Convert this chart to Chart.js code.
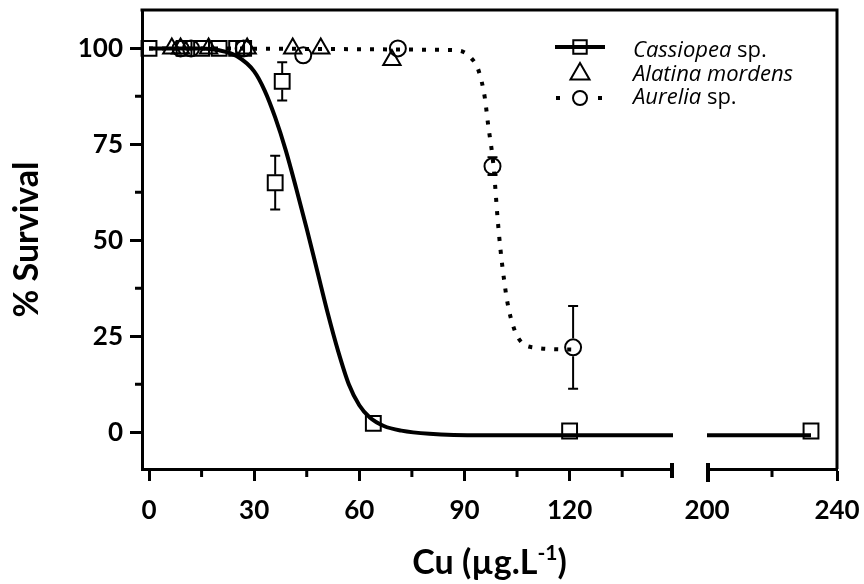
<!DOCTYPE html>
<html>
<head>
<meta charset="utf-8">
<title>Cu survival</title>
<script src="https://cdn.jsdelivr.net/npm/chart.js@4.4.1/dist/chart.umd.min.js"></script>
<style>
  html, body { margin: 0; padding: 0; background: #fff; }
  #wrap { width: 864px; height: 584px; }
</style>
</head>
<body>
<div id="wrap"><canvas id="chart" width="864" height="584"></canvas></div>
<script>
// Survival data
const cassX = [0, 10, 15, 20, 25, 27, 36, 38, 64, 120];
const cassY = [100, 100, 100, 100, 100, 100, 65, 91.4, 2.3, 0.3];
const cassErr = [0, 0, 0, 0, 0, 0, 7, 5, 0, 0];
const cassHighX = [232];
const cassHighY = [0.3];

const alatX = [6.5, 9, 17, 28, 41, 49, 69.3];
const alatY = [100, 100, 100, 100, 100, 100, 97];

const aurX = [9, 12, 27, 44, 71, 98, 121];
const aurY = [100, 100, 100, 98.2, 100, 69.3, 22.1];
const aurErr = [0, 0, 0, 0, 0, 2.3, 10.8];

// Fitted curves, sampled off the figure
const cassFitX = [0, 15, 20, 25, 30, 33, 36, 39, 42, 45, 48, 51, 54, 57, 60, 63, 67, 72, 80, 95, 149.5];
const cassFitY = [100, 100, 99.5, 98, 94, 89, 82, 73.5, 63.5, 53, 42, 31, 21, 12.5, 7, 3.8, 1.6, 0.4, -0.4, -0.8, -0.8];
const cassFitHighX = [200, 232];
const cassFitHighY = [-0.8, -0.8];

const aurFitX = [0, 85, 89, 92, 94, 95.8, 96.7, 98.3, 99.5, 100.3, 101.2, 102.3, 104.3, 106.3, 109.5, 121];
const aurFitY = [100, 99.6, 99.3, 97.4, 94.3, 87.2, 80.5, 69.3, 55.2, 47.4, 40.4, 33.6, 26.6, 23.4, 22.1, 21.5];

// Axis ticks
const xLowTicks = [0, 30, 60, 90, 120];
const xLowMinor = [15, 45, 75, 105, 135];
const xHighTicks = [200, 240];
const xHighMinor = [220];
const yTicks = [0, 25, 50, 75, 100];
const yMinor = [12.5, 37.5, 62.5, 87.5];

const legendItems = [
    { italic: 'Cassiopea', plain: ' sp.', symbol: 'rect', line: 'solid' },
    { italic: 'Alatina mordens', plain: '', symbol: 'triangle', line: 'none' },
    { italic: 'Aurelia', plain: ' sp.', symbol: 'circle', line: 'dotted' }
];

const FONT = 'Lato';
const LEGEND_FONT = '"Open Sans"';
const pts = (xs, ys) => xs.map((x, i) => ({ x: x, y: ys[i] }));

// marker look shared by data and legend
const markers = {
    rect: { pointStyle: 'rect', radius: 10.5, half: 8, legendRadius: 9.5 },
    triangle: { pointStyle: 'triangle', radius: 10, half: 9, legendRadius: 11 },
    circle: { pointStyle: 'circle', radius: 8, half: 9, legendRadius: 7 }
};

function markerSet(label, data, style, axis, errors) {
    return {
        type: 'scatter',
        label: label,
        data: data,
        xAxisID: axis,
        errors: errors,
        markerHalf: markers[style].half,
        pointStyle: markers[style].pointStyle,
        pointRadius: markers[style].radius,
        pointBorderWidth: 2,
        pointBorderColor: '#000',
        pointBackgroundColor: 'rgba(0,0,0,0)',
        showLine: false,
        clip: false
    };
}

function curveSet(data, axis, dash) {
    return {
        type: 'line',
        data: data,
        xAxisID: axis,
        borderColor: '#000',
        borderWidth: 4,
        borderDash: dash,
        borderCapStyle: 'butt',
        cubicInterpolationMode: 'monotone',
        pointRadius: 0,
        fill: false
    };
}

// Error bars: drawn from the marker edge out to value +/- error
const errorBars = {
    id: 'errorBars',
    afterDatasetsDraw(chart) {
        const ctx = chart.ctx;
        const ys = chart.scales.y;
        ctx.save();
        ctx.strokeStyle = '#000';
        ctx.lineWidth = 2;
        chart.data.datasets.forEach((ds, i) => {
            if (!ds.errors) return;
            const meta = chart.getDatasetMeta(i);
            meta.data.forEach((pt, j) => {
                const e = ds.errors[j];
                if (!e) return;
                const v = ds.data[j].y;
                const top = ys.getPixelForValue(v + e);
                const bot = ys.getPixelForValue(v - e);
                const h = ds.markerHalf;
                ctx.beginPath();
                if (top < pt.y - h) {
                    ctx.moveTo(pt.x, pt.y - h); ctx.lineTo(pt.x, top);
                }
                if (bot > pt.y + h) {
                    ctx.moveTo(pt.x, pt.y + h); ctx.lineTo(pt.x, bot);
                }
                ctx.moveTo(pt.x - 5, top); ctx.lineTo(pt.x + 5, top);
                ctx.moveTo(pt.x - 5, bot); ctx.lineTo(pt.x + 5, bot);
                ctx.stroke();
            });
        });
        ctx.restore();
    }
};

// Frame, minor ticks, axis break, x title and legend
const decorations = {
    id: 'decorations',
    afterDraw(chart) {
        const ctx = chart.ctx;
        const area = chart.chartArea;
        const { xLow, xHigh, y } = chart.scales;
        ctx.save();
        ctx.strokeStyle = '#000';
        ctx.fillStyle = '#000';

        // top and right border
        ctx.lineWidth = 3;
        ctx.beginPath();
        ctx.moveTo(area.left - 1.5, area.top);
        ctx.lineTo(area.right, area.top);
        ctx.moveTo(area.right, area.top - 1.5);
        ctx.lineTo(area.right, area.bottom);
        ctx.stroke();

        // minor ticks
        ctx.beginPath();
        xLowMinor.forEach(v => {
            const px = xLow.getPixelForValue(v);
            ctx.moveTo(px, area.bottom); ctx.lineTo(px, area.bottom + 8);
        });
        xHighMinor.forEach(v => {
            const px = xHigh.getPixelForValue(v);
            ctx.moveTo(px, area.bottom); ctx.lineTo(px, area.bottom + 8);
        });
        yMinor.forEach(v => {
            const py = y.getPixelForValue(v);
            ctx.moveTo(area.left, py); ctx.lineTo(area.left - 7, py);
        });
        ctx.stroke();

        // axis break marks
        ctx.lineWidth = 4;
        ctx.beginPath();
        ctx.moveTo(xLow.right - 1, area.bottom - 6); ctx.lineTo(xLow.right - 1, area.bottom + 9);
        ctx.moveTo(xHigh.left + 1, area.bottom - 6); ctx.lineTo(xHigh.left + 1, area.bottom + 13);
        ctx.stroke();

        // x axis title with superscript
        const main = 'bold 34px ' + FONT;
        const sup = 'bold 21px ' + FONT;
        const parts = [['Cu (\u00b5g.L', main, 0], ['-1', sup, -14], [')', main, 0]];
        let total = 0;
        parts.forEach(p => { ctx.font = p[1]; total += ctx.measureText(p[0]).width; });
        let tx = (area.left + area.right) / 2 - total / 2;
        const ty = 574;
        ctx.textBaseline = 'alphabetic';
        ctx.textAlign = 'left';
        parts.forEach(p => {
            ctx.font = p[1];
            ctx.fillText(p[0], tx, ty + p[2]);
            tx += ctx.measureText(p[0]).width;
        });

        // legend
        const symX = area.right - 257;
        const textX = area.right - 204;
        const symY = [47, 74, 98];
        const baseY = [57, 81, 104];
        legendItems.forEach((item, i) => {
            const ly = symY[i];
            if (item.line === 'solid') {
                ctx.lineWidth = 4;
                ctx.beginPath();
                ctx.moveTo(symX - 25, ly); ctx.lineTo(symX + 25, ly);
                ctx.stroke();
            } else if (item.line === 'dotted') {
                ctx.fillRect(symX - 24, ly - 2, 4, 4);
                ctx.fillRect(symX + 18, ly - 2, 4, 4);
            }
            const m = markers[item.symbol];
            ctx.lineWidth = 2;
            ctx.fillStyle = 'rgba(0,0,0,0)';
            Chart.helpers.drawPoint(ctx, { pointStyle: m.pointStyle, radius: m.legendRadius, borderWidth: 2, rotation: 0 }, symX, ly);
            ctx.fillStyle = '#000';
            ctx.textBaseline = 'alphabetic';
            ctx.font = 'italic 22px ' + LEGEND_FONT;
            ctx.fillText(item.italic, textX, baseY[i]);
            const w = ctx.measureText(item.italic).width;
            ctx.font = '22px ' + LEGEND_FONT;
            ctx.fillText(item.plain, textX + w, baseY[i]);
        });
        ctx.restore();
    }
};

const tickFont = { family: FONT, weight: 'bold', size: 26 };

function xAxis(min, max, ticks, weight) {
    return {
        type: 'linear',
        position: 'bottom',
        stack: 'x',
        stackWeight: weight,
        min: min,
        max: max,
        afterBuildTicks: s => { s.ticks = ticks.map(v => ({ value: v })); },
        afterFit: s => { s.height = 115; s.paddingLeft = 0; s.paddingRight = 0; },
        border: { display: ticks.length > 0, width: 3, color: '#000' },
        grid: { display: ticks.length > 0, drawOnChartArea: false, tickLength: 12, tickWidth: 3, tickColor: '#000' },
        ticks: { display: ticks.length > 0, font: tickFont, color: '#000', padding: 14, maxRotation: 0 }
    };
}

new Chart(document.getElementById('chart'), {
    data: {
        datasets: [
            markerSet('Cassiopea sp.', pts(cassX, cassY), 'rect', 'xLow', cassErr),
            markerSet('Cassiopea sp.', pts(cassHighX, cassHighY), 'rect', 'xHigh', null),
            markerSet('Alatina mordens', pts(alatX, alatY), 'triangle', 'xLow', null),
            markerSet('Aurelia sp.', pts(aurX, aurY), 'circle', 'xLow', aurErr),
            curveSet(pts(cassFitX, cassFitY), 'xLow', []),
            curveSet(pts(cassFitHighX, cassFitHighY), 'xHigh', []),
            curveSet(pts(aurFitX, aurFitY), 'xLow', [4, 9])
        ]
    },
    options: {
        responsive: false,
        animation: false,
        events: [],
        layout: { autoPadding: false, padding: { top: 10, right: 27, bottom: 0, left: 0 } },
        plugins: { legend: { display: false }, tooltip: { enabled: false } },
        scales: {
            xLow: xAxis(-2, 149.5, xLowTicks, 531),
            xGap: xAxis(0, 1, [], 34),
            xHigh: xAxis(200, 240, xHighTicks, 130),
            y: {
                type: 'linear',
                position: 'left',
                min: -9.6,
                max: 110,
                afterBuildTicks: s => { s.ticks = yTicks.map(v => ({ value: v })); },
                afterFit: s => { s.width = 142; s.paddingTop = 0; s.paddingBottom = 0; },
                border: { width: 3, color: '#000' },
                grid: { drawOnChartArea: false, tickLength: 12, tickWidth: 3, tickColor: '#000' },
                ticks: { font: tickFont, color: '#000', padding: 7 },
                title: {
                    display: true,
                    text: '% Survival',
                    color: '#000',
                    font: { family: FONT, weight: 'bold', size: 34 },
                    padding: { top: 7, bottom: 0 }
                }
            }
        }
    },
    plugins: [errorBars, decorations]
});
</script>
</body>
</html>
